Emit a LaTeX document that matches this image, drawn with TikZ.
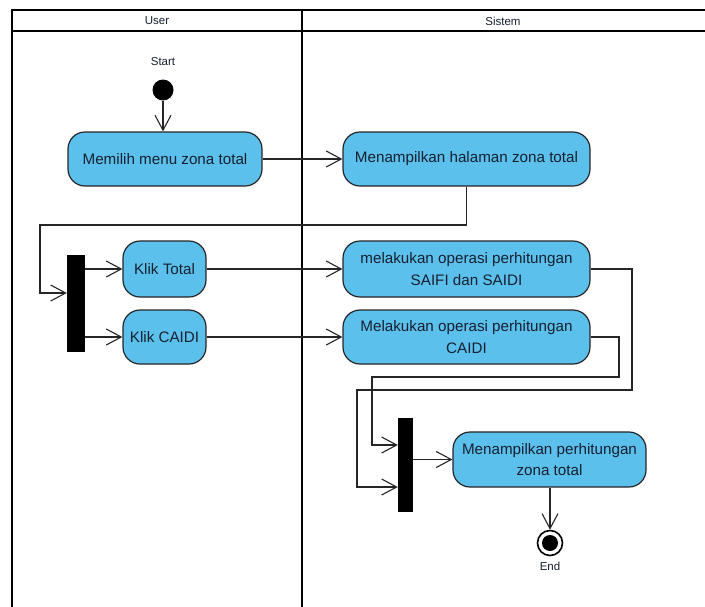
\documentclass[tikz,border=0pt]{standalone}
\usepackage{fontspec}
\setmainfont{Liberation Sans}
\usetikzlibrary{arrows.meta,positioning,calc}
\definecolor{actfill}{RGB}{92,192,236}
\definecolor{txt}{RGB}{22,32,48}
\tikzset{
  act/.style={draw=black!85, line width=1.2pt, fill=actfill, rounded corners=17pt,
     align=center, inner sep=0pt, text=txt, font=\fontsize{15.2}{21.5}\selectfont},
  bar/.style={fill=black, draw=none, inner sep=0pt},
  flow/.style={draw=black!85, line width=1.1pt, -{Straight Barb[length=15pt,width=16pt,line width=1.1pt]}},
  lane/.style={draw=black, line width=2.4pt},
  small/.style={font=\fontsize{11.5}{13}\selectfont, text=txt, inner sep=0pt},
}
\begin{document}
\begin{tikzpicture}[x=1pt,y=-1pt]
\useasboundingbox (0,0) rectangle (705,606);
\fill[white] (0,0) rectangle (705,606);
\begin{scope}
\clip (0,0) rectangle (705,606);
% swimlane frame
\draw[lane] (12,620) -- (12,10) -- (720,10);
\draw[lane] (12,31) -- (720,31);
\draw[lane] (302,10) -- (302,620);
\end{scope}
\node[small] (hUser) at (157,21) {User};
\node[small] (hSys) at (503,21) {Sistem};

% start
\node[small] (startlbl) at (163,62) {Start};
\node[circle, fill=black, minimum size=21pt, inner sep=0pt] (start) at (163,90) {};

% activities
\node[act, minimum width=194pt, minimum height=54pt] (b1) at (165,159) {Memilih menu zona total};
\node[act, minimum width=247pt, minimum height=54pt] (b2) at (466.5,159) {Menampilkan halaman zona total};
\node[act, minimum width=83pt, minimum height=56pt] (kt) at (164.5,269) {Klik Total};
\node[act, minimum width=83pt, minimum height=54pt] (kc) at (164.5,337) {Klik CAIDI};
\node[act, minimum width=247pt, minimum height=56pt] (b3) at (466.5,269) {melakukan operasi perhitungan\\SAIFI dan SAIDI};
\node[act, minimum width=247pt, minimum height=54pt] (b4) at (466.5,337) {Melakukan operasi perhitungan\\CAIDI};
\node[act, minimum width=193pt, minimum height=55pt] (b5) at (549.5,459.5) {Menampilkan perhitungan\\zona total};

% fork / join bars
\node[bar, minimum width=18pt, minimum height=97pt] (fork1) at (76,303.5) {};
\node[bar, minimum width=15pt, minimum height=94pt] (fork2) at (405.5,465) {};

% end
\node[circle, draw=black, line width=1.6pt, fill=white, minimum size=25pt, inner sep=0pt] (end) at (550,543) {};
\fill[black] (end.center) circle (8pt);
\node[small] (endlbl) at (550,566) {End};

% helper coordinates
\coordinate (j1) at (40,225);
\coordinate (f1in) at (67,293);
\coordinate (j2) at (632,390);
\coordinate (j3) at (357,487);
\coordinate (j4) at (619,377);
\coordinate (j5) at (372,445);

% connectors
\draw[flow] (start.south) -- (start.south |- b1.north);
\draw[flow] (b1.east) -- (b2.west);
\draw[flow] (b2.south) |- (j1) |- (fork1.west |- f1in);
\draw[flow] (fork1.east |- kt) -- (kt.west);
\draw[flow] (fork1.east |- kc) -- (kc.west);
\draw[flow] (kt.east) -- (b3.west);
\draw[flow] (kc.east) -- (b4.west);
\draw[flow] (b3.east) -| (j2) -| (j3) -- (fork2.west |- j3);
\draw[flow] (b4.east) -| (j4) -| (j5) -- (fork2.west |- j5);
\draw[flow] (fork2.east |- b5) -- (b5.west);
\draw[flow] (b5.south -| end) -- (end.north);
\end{tikzpicture}
\end{document}
